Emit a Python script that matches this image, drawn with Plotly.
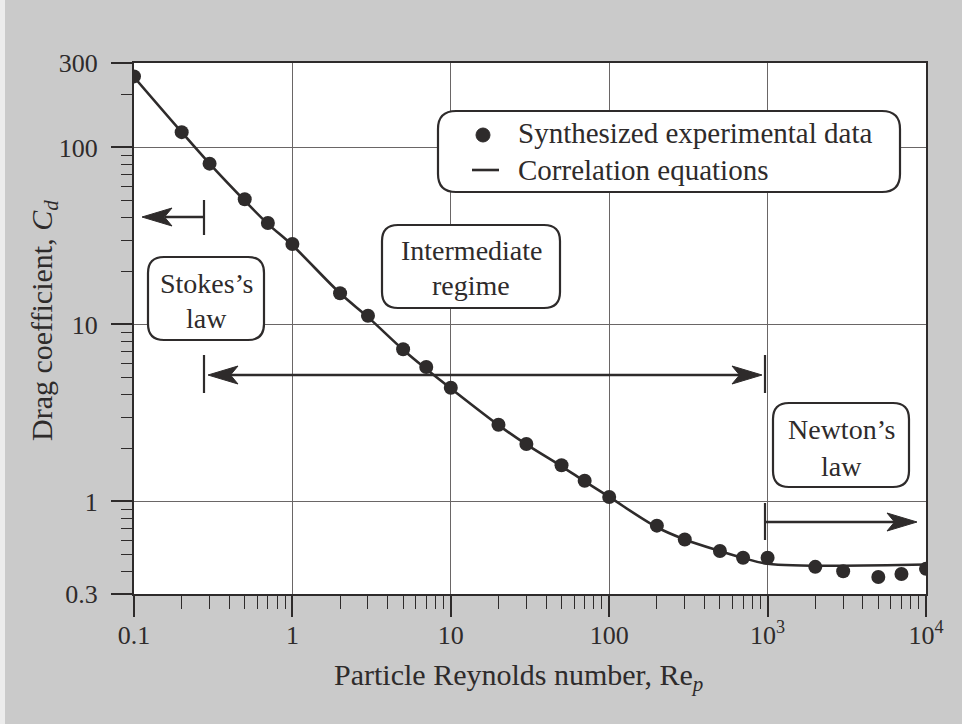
import plotly.graph_objects as go

# ---------------- data ----------------
re_data = [0.1, 0.2, 0.3, 0.5, 0.7, 1, 2, 3, 5, 7, 10, 20, 30, 50, 70, 100,
           200, 300, 500, 700, 1000, 2000, 3000, 5000, 7000, 10000]
cd_data = [252, 122, 81, 51, 37.4, 28.5, 15.0, 11.2, 7.24, 5.75, 4.39, 2.71,
           2.11, 1.60, 1.31, 1.06, 0.73, 0.61, 0.525, 0.481, 0.481, 0.427,
           0.403, 0.374, 0.389, 0.416]

re_line = [0.1, 0.2, 0.3, 0.5, 0.7, 1, 2, 3, 5, 7, 10, 20, 30, 50, 70, 100,
           200, 300, 500, 700, 1000, 10000]
cd_line = [250, 122, 81, 50, 37, 28, 15, 11, 7.2, 5.6, 4.35, 2.7, 2.1, 1.58,
           1.3, 1.06, 0.715, 0.61, 0.525, 0.48, 0.445, 0.44]

x_tickvals = [0.1, 1, 10, 100, 1000, 10000]
x_ticktext = ["0.1", "1", "10", "100", "10<sup>3</sup>", "10<sup>4</sup>"]
y_tickvals = [0.3, 1, 10, 100, 300]
y_ticktext = ["0.3", "1", "10", "100", "300"]
x_minor = [m * d for d in [0.1, 1, 10, 100, 1000] for m in range(2, 10)]
y_minor = [0.4, 0.5, 0.6, 0.7, 0.8, 0.9] + [m * d for d in [1, 10] for m in range(2, 10)] + [200]

legend_labels = ["Synthesized experimental data", "Correlation equations"]

# ---------------- layout geometry ----------------
W, H = 962, 724
L, R, T, B = 134, 926, 63, 594
INK = "#2e2b2b"
FONT = "Liberation Serif"


def px(x):
    return (x - L) / (R - L)


def py(y):
    return (B - y) / (B - T)


def rounded_box(x0, y0, x1, y1, r=16):
    ax0, ax1, ay0, ay1 = px(x0), px(x1), py(y0), py(y1)
    rx = r / (R - L)
    ry = r / (B - T)
    p = (f"M {ax0+rx},{ay0} L {ax1-rx},{ay0} Q {ax1},{ay0} {ax1},{ay0-ry} "
         f"L {ax1},{ay1+ry} Q {ax1},{ay1} {ax1-rx},{ay1} "
         f"L {ax0+rx},{ay1} Q {ax0},{ay1} {ax0},{ay1+ry} "
         f"L {ax0},{ay0-ry} Q {ax0},{ay0} {ax0+rx},{ay0} Z")
    return dict(type="path", xref="paper", yref="paper", path=p,
                line=dict(color=INK, width=2.2), fillcolor="white", layer="above")


def hline(x0, x1, y, w=2.6):
    return dict(type="line", xref="paper", yref="paper", x0=px(x0), x1=px(x1),
                y0=py(y), y1=py(y), line=dict(color=INK, width=w), layer="above")


def vline(x, y0, y1, w=2.2):
    return dict(type="line", xref="paper", yref="paper", x0=px(x), x1=px(x),
                y0=py(y0), y1=py(y1), line=dict(color=INK, width=w), layer="above")


def arrowhead(tipx, y, direction, length=30, half=9):
    bx = tipx - direction * length
    nx = tipx - direction * length * 0.75
    p = (f"M {px(tipx)},{py(y)} L {px(bx)},{py(y - half)} "
         f"L {px(nx)},{py(y)} L {px(bx)},{py(y + half)} Z")
    return dict(type="path", xref="paper", yref="paper", path=p,
                line=dict(color=INK, width=1), fillcolor=INK, layer="above")


fig = go.Figure()
fig.add_trace(go.Scatter(x=re_line, y=cd_line, mode="lines", line_shape="spline",
                         line=dict(color=INK, width=2.6), name=legend_labels[1],
                         showlegend=False))
fig.add_trace(go.Scatter(x=re_data, y=cd_data, mode="markers",
                         marker=dict(color=INK, size=14), name=legend_labels[0],
                         showlegend=False))

shapes = []
# thin light strip at the left edge of the scan
shapes.append(dict(type="rect", xref="paper", yref="paper", x0=px(0), x1=px(5),
                   y0=py(H), y1=py(0), fillcolor="#ececec", line=dict(width=0),
                   layer="below"))
# legend box
shapes.append(rounded_box(438, 111, 900, 192, r=18))
shapes.append(dict(type="circle", xref="paper", yref="paper",
                   x0=px(476), x1=px(490), y0=py(128), y1=py(142),
                   fillcolor=INK, line=dict(color=INK, width=1), layer="above"))
shapes.append(hline(472, 499, 170))
# annotation boxes
shapes.append(rounded_box(148, 257, 264, 340))
shapes.append(rounded_box(382, 225, 560, 308))
shapes.append(rounded_box(773, 403, 909, 487))
# Stokes arrow
shapes.append(hline(165, 204, 217))
shapes.append(vline(204, 200, 235))
shapes.append(arrowhead(142, 217, -1))
# intermediate double arrow
shapes.append(hline(230, 740, 375))
shapes.append(vline(204, 355, 393))
shapes.append(vline(765, 355, 393))
shapes.append(arrowhead(208, 375, -1))
shapes.append(arrowhead(762, 375, 1))
# Newton arrow
shapes.append(vline(765, 503, 540))
shapes.append(hline(765, 895, 522))
shapes.append(arrowhead(917, 522, 1))

annotations = []


def text(x, y, s, size=28, xanchor="center", angle=0):
    annotations.append(dict(xref="paper", yref="paper", x=px(x), y=py(y), text=s,
                            showarrow=False, xanchor=xanchor, yanchor="middle",
                            textangle=angle,
                            font=dict(family=FONT, size=size, color=INK)))


text(516, 133, legend_labels[0], size=29, xanchor="left")
text(516, 170, legend_labels[1], size=29, xanchor="left")
text(206, 283, "Stokes\u2019s")
text(206, 318, "law")
text(471, 250, "Intermediate")
text(471, 285, "regime")
text(841, 429, "Newton\u2019s")
text(841, 466, "law")
text(518, 677, "Particle Reynolds number, Re<sub><i>p</i></sub>", size=30)
text(44, 321, "Drag coefficient, <i>C</i><sub><i>d</i></sub>", size=30, angle=-90)

axis_common = dict(type="log", showline=True, linecolor=INK, linewidth=2, mirror=True,
                   ticks="outside", ticklen=21, tickwidth=1.6, tickcolor=INK,
                   showgrid=True, gridcolor="#6a6666", gridwidth=1.2, zeroline=False,
                   tickfont=dict(family=FONT, size=26, color=INK))

fig.update_layout(
    width=W, height=H,
    margin=dict(l=L, r=W - R, t=T, b=H - B),
    paper_bgcolor="#cacaca", plot_bgcolor="white",
    showlegend=False,
    shapes=shapes, annotations=annotations,
    xaxis=dict(**axis_common, range=[-1, 4], tickmode="array",
               tickvals=x_tickvals, ticktext=x_ticktext, ticklabelstandoff=-4,
               minor=dict(tickmode="array", tickvals=x_minor, ticks="outside",
                          ticklen=13, tickwidth=1.3, tickcolor=INK, showgrid=False)),
    yaxis=dict(**axis_common, range=[-0.5229, 2.4771], tickmode="array",
               tickvals=y_tickvals, ticktext=y_ticktext, ticklabelstandoff=8,
               minor=dict(tickmode="array", tickvals=y_minor, ticks="outside",
                          ticklen=11, tickwidth=1.3, tickcolor=INK, showgrid=False)),
)

fig.write_html("out.html", config={"displayModeBar": False},
               post_script="document.body.style.margin='0';document.body.style.padding='0';")
